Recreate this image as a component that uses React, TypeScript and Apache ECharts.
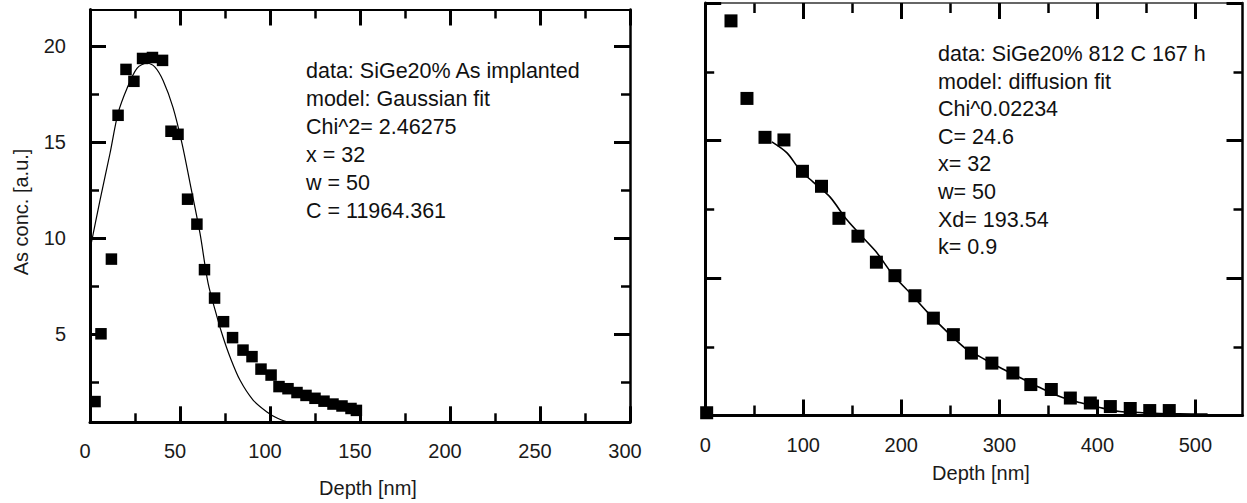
import React, { useEffect, useRef } from "react";
import * as echarts from "echarts";

// ---------- data: left panel (as implanted) ----------
const leftDepth = [2.8, 6.1, 11.9, 15.6, 20, 24.4, 29.2, 34.7, 40.3, 45, 48.9, 54.2, 59.4, 63.6, 69.2, 74.2, 79.2, 85, 90, 95, 100.6, 105, 110, 115, 120, 125, 130, 135, 140, 145, 148];
const leftConc = [1.48, 5.01, 8.9, 16.39, 18.78, 18.16, 19.35, 19.4, 19.25, 15.56, 15.4, 12.02, 10.72, 8.35, 6.87, 5.64, 4.81, 4.16, 3.82, 3.17, 2.86, 2.26, 2.15, 1.95, 1.8, 1.65, 1.5, 1.35, 1.25, 1.12, 1.02];
const leftFitDepth = [0, 5.6, 11.1, 15.6, 20.6, 26.1, 31.7, 36.1, 40.6, 46.1, 51.1, 55.6, 61.1, 65.6, 70.6, 73.9, 77.8, 83.3, 90.6, 98.3, 103.9, 109.4];
const leftFitConc = [9.4, 11.98, 14.4, 16.5, 17.8, 18.84, 19.1, 18.9, 18.2, 16.8, 14.93, 12.85, 10.25, 7.65, 5.88, 4.84, 3.8, 2.6, 1.56, 0.94, 0.62, 0.42];

// ---------- data: right panel (812 C 167 h) ----------
const rightDepth = [1.5, 26.3, 42.6, 61, 80.3, 99.2, 118.6, 136.4, 155.8, 174.6, 193.5, 213.9, 232.7, 253.1, 271.5, 292.4, 313.8, 332.1, 353, 372.4, 392.8, 413.2, 433.5, 453.4, 473.3];
const rightConc = [0.2, 28.7, 23.06, 20.23, 20.04, 17.76, 16.67, 14.34, 13.04, 11.15, 10.17, 8.71, 7.08, 5.88, 4.54, 3.81, 3.09, 2.25, 1.89, 1.27, 0.91, 0.65, 0.51, 0.36, 0.36];
const rightFitDepth = [68, 83.4, 96.6, 109.9, 127.2, 144.5, 164.9, 175.1, 191.4, 208.7, 227.1, 246.5, 266.9, 280.1, 300.5, 320.9, 341.3, 361.7, 382, 402.4, 422.8, 443.2, 463.5, 483.9, 512.4];
const rightFitConc = [19.9, 19.1, 17.86, 16.99, 15.9, 14.23, 12.64, 11.84, 10.24, 8.93, 7.48, 6.1, 4.79, 4.28, 3.49, 2.76, 2.03, 1.38, 0.94, 0.58, 0.29, 0.22, 0.15, 0.12, 0.1];

// ---------- ticks ----------
const leftXMajor = [0, 50, 100, 150, 200, 250, 300];
const leftXMinor = [25, 75, 125, 175, 225, 275];
const leftYMajor = [5, 10, 15, 20];
const leftYMinor = [2.5, 7.5, 12.5, 17.5];
const rightXMajor = [0, 100, 200, 300, 400, 500];
const rightXMinor = [50, 150, 250, 350, 450];
const rightYMajor = [0, 10, 20, 30];
const rightYMinor = [5, 15, 25];

// ---------- texts ----------
const leftNotes = ["data: SiGe20% As implanted", "model: Gaussian fit", "Chi^2= 2.46275", "x = 32", "w = 50", "C = 11964.361"];
const rightNotes = ["data: SiGe20% 812 C 167 h", "model: diffusion fit", "Chi^0.02234", "C= 24.6", "x= 32", "w= 50", "Xd= 193.54", "k= 0.9"];
const yName = "As conc. [a.u.]";
const xName = "Depth [nm]";

const FONT = '"Liberation Sans", Arial, Helvetica, sans-serif';

function mkAxis(
  gridIndex: number,
  position: string,
  min: number,
  max: number,
  values: number[],
  len: number,
  tickW: number,
  lineW: number,
  lineColor: string,
  label: any
) {
  return {
    type: "value",
    gridIndex,
    position,
    min,
    max,
    z: lineW > 0 ? 5 : 0,
    axisLine: { show: lineW > 0, onZero: false, lineStyle: { color: lineColor, width: lineW } },
    axisTick: { show: true, inside: true, length: len, customValues: values, lineStyle: { color: "#000", width: tickW } },
    axisLabel: label
      ? { show: true, customValues: values, fontFamily: FONT, fontSize: 20, color: "#1a1a1a", ...label }
      : { show: false },
    splitLine: { show: false },
    minorTick: { show: false },
  };
}

export default function App() {
  const ref = useRef<HTMLDivElement>(null);
  useEffect(() => {
    if (!ref.current) return;
    const chart = echarts.init(ref.current, undefined, { renderer: "svg" });

    const L = { left: 90, top: 9.5, width: 540, height: 412.8 };
    const R = { left: 705.2, top: 3, width: 537.3, height: 412.5 };

    const xAxis = [
      mkAxis(0, "bottom", 0, 300, leftXMajor, 16, 3, 3, "#000", { margin: 19, padding: [0, 10, 0, 0] }),
      mkAxis(0, "bottom", 0, 300, leftXMinor, 9, 2.5, 0, "#000", null),
      mkAxis(0, "top", 0, 300, leftXMajor, 16, 3, 2.2, "#000", null),
      mkAxis(0, "top", 0, 300, leftXMinor, 9, 2.5, 0, "#000", null),
      mkAxis(1, "bottom", 0, 548, rightXMajor, 16, 3, 3, "#000", { margin: 19 }),
      mkAxis(1, "bottom", 0, 548, rightXMinor, 10, 2.5, 0, "#000", null),
      mkAxis(1, "top", 0, 548, rightXMajor, 16, 3, 1.6, "#333", null),
      mkAxis(1, "top", 0, 548, rightXMinor, 10, 2.5, 0, "#000", null),
    ];
    const yAxis = [
      mkAxis(0, "left", 0.4, 21.9, leftYMajor, 16, 3, 3, "#000", { margin: 24 }),
      mkAxis(0, "left", 0.4, 21.9, leftYMinor, 9, 2.5, 0, "#000", null),
      mkAxis(0, "right", 0.4, 21.9, leftYMajor, 16, 3, 2.5, "#000", null),
      mkAxis(0, "right", 0.4, 21.9, leftYMinor, 9, 2.5, 0, "#000", null),
      mkAxis(1, "left", 0, 30, rightYMajor, 16, 3, 3, "#000", null),
      mkAxis(1, "left", 0, 30, rightYMinor, 9, 2.5, 0, "#000", null),
      mkAxis(1, "right", 0, 30, rightYMajor, 16, 3, 2.5, "#000", null),
      mkAxis(1, "right", 0, 30, rightYMinor, 9, 2.5, 0, "#000", null),
    ];

    const noteStyle = (t: string) => ({
      text: t,
      font: `21.5px ${FONT}`,
      fill: "#111",
      verticalAlign: "middle",
      textVerticalAlign: "middle",
    });

    const nameStyle = (t: string) => ({
      text: t,
      font: `20px ${FONT}`,
      fill: "#1a1a1a",
      align: "center",
      textAlign: "center",
      verticalAlign: "middle",
      textVerticalAlign: "middle",
    });

    const graphic: any[] = [
      ...leftNotes.map((t, i) => ({ type: "text", x: 306, y: 71 + i * 28, silent: true, style: noteStyle(t) })),
      ...rightNotes.map((t, i) => ({ type: "text", x: 938, y: 54 + i * 27.6, silent: true, style: noteStyle(t) })),
      { type: "text", x: 21, y: 212, rotation: Math.PI / 2, silent: true, style: nameStyle(yName) },
      { type: "text", x: 368, y: 488, silent: true, style: nameStyle(xName) },
      { type: "text", x: 981, y: 473, silent: true, style: nameStyle(xName) },
    ];

    const pairs = (xs: number[], ys: number[]) => xs.map((x, i) => [x, ys[i]]);

    chart.setOption({
      animation: false,
      backgroundColor: "#fff",
      grid: [
        { ...L, containLabel: false, outerBoundsMode: "none" },
        { ...R, containLabel: false, outerBoundsMode: "none" },
      ],
      xAxis,
      yAxis,
      series: [
        {
          type: "line",
          xAxisIndex: 0,
          yAxisIndex: 0,
          data: pairs(leftFitDepth, leftFitConc),
          showSymbol: false,
          symbol: "none",
          smooth: 0.3,
          lineStyle: { color: "#000", width: 1.2, opacity: 1 },
          z: 2,
        },
        {
          type: "scatter",
          xAxisIndex: 0,
          yAxisIndex: 0,
          data: pairs(leftDepth, leftConc),
          symbol: "rect",
          symbolSize: 11.5,
          itemStyle: { color: "#000", opacity: 1 },
          z: 3,
        },
        {
          type: "line",
          xAxisIndex: 4,
          yAxisIndex: 4,
          data: pairs(rightFitDepth, rightFitConc),
          showSymbol: false,
          symbol: "none",
          smooth: 0.3,
          lineStyle: { color: "#000", width: 1.6, opacity: 1 },
          z: 2,
        },
        {
          type: "scatter",
          xAxisIndex: 4,
          yAxisIndex: 4,
          data: pairs(rightDepth, rightConc),
          symbol: "rect",
          symbolSize: 13,
          itemStyle: { color: "#000", opacity: 1 },
          z: 3,
        },
      ],
      graphic,
    });

    return () => chart.dispose();
  }, []);

  return (
    <div
      ref={ref}
      style={{ position: "absolute", left: 0, top: 0, width: 1247, height: 503, background: "#fff" }}
    />
  );
}
